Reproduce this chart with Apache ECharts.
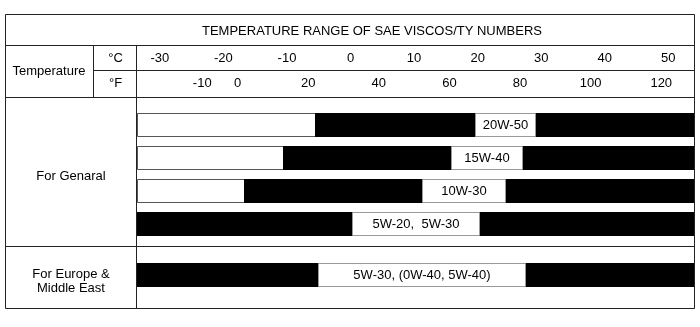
<!DOCTYPE html>
<html>
<head>
<meta charset="utf-8">
<script src="https://cdn.jsdelivr.net/npm/echarts@6/dist/echarts.min.js"></script>
<style>
html,body{margin:0;padding:0;background:#fff;}
#chart{width:700px;height:327px;}
</style>
</head>
<body>
<div id="chart"></div>
<script>
// ---- data ----
const titleText = 'TEMPERATURE RANGE OF SAE VISCOS/TY NUMBERS';
const grades = ['20W-50', '15W-40', '10W-30', '5W-20,  5W-30', '5W-30, (0W-40, 5W-40)'];
const gradeGroup = [0, 0, 0, 0, 1];
const groups = ['For Genaral', 'For Europe &\nMiddle East'];
// temperature range (°C) in which each grade is usable (black band)
const rangeLowC = [-5.6, -10.6, -16.7, -33.6, -33.6];
const rangeHighC = [54.2, 54.2, 54.2, 54.2, 54.2];
// grade label box span (°C)
const labelLowC = [19.6, 15.8, 11.3, 0.3, -5.1];
const labelHighC = [29.2, 27.2, 24.5, 20.4, 27.6];
// axis
const axisMinC = -33.6;
const axisMaxC = 54.2;
const celsiusTicks = [-30, -20, -10, 0, 10, 20, 30, 40, 50];
const fahrenheitTicks = [-10, 0, 20, 40, 60, 80, 100, 120];

const C2F = c => c * 9 / 5 + 32;
const FONT = "'Liberation Sans', Arial, Helvetica, sans-serif";

const chart = echarts.init(document.getElementById('chart'), null, {renderer: 'canvas'});

const BAR_H = 23;

function rowsOf(g) {
  const out = [];
  grades.forEach((n, i) => { if (gradeGroup[i] === g) out.push(i); });
  return out;
}

function makeSeries(g) {
  const idx = rowsOf(g);
  const track = idx.map((gi, r) => [r, axisMinC, axisMaxC]);
  const band = idx.map((gi, r) => [r, rangeLowC[gi], rangeHighC[gi]]);
  const box = idx.map((gi, r) => [r, labelLowC[gi], labelHighC[gi], gi]);
  const common = {type: 'custom', xAxisIndex: g === 0 ? 0 : 2, yAxisIndex: g, encode: {x: [1, 2], y: 0}, silent: true, clip: false};
  return [
    Object.assign({}, common, {
      name: 'track' + g, data: track, z: 1,
      renderItem: (params, api) => {
        const p0 = api.coord([api.value(1), api.value(0)]);
        const p1 = api.coord([api.value(2), api.value(0)]);
        const x0 = Math.round(p0[0]) + 0.5, x1 = Math.round(p1[0]) - 0.5;
        const y0 = Math.round(p0[1] - BAR_H / 2) + 0.5;
        return {type: 'rect', shape: {x: x0, y: y0, width: x1 - x0, height: BAR_H},
          style: {fill: '#fff', stroke: '#555', lineWidth: 1}};
      }
    }),
    Object.assign({}, common, {
      name: 'band' + g, data: band, z: 2,
      renderItem: (params, api) => {
        const p0 = api.coord([api.value(1), api.value(0)]);
        const p1 = api.coord([api.value(2), api.value(0)]);
        const x0 = Math.round(p0[0]), x1 = Math.round(p1[0]);
        const y0 = Math.round(p0[1] - BAR_H / 2);
        return {type: 'rect', shape: {x: x0, y: y0, width: x1 - x0, height: BAR_H + 1},
          style: {fill: '#000'}};
      }
    }),
    Object.assign({}, common, {
      name: 'label' + g, data: box, z: 3,
      renderItem: (params, api) => {
        const p0 = api.coord([api.value(1), api.value(0)]);
        const p1 = api.coord([api.value(2), api.value(0)]);
        const x0 = Math.round(p0[0]) + 0.5, x1 = Math.round(p1[0]) - 0.5;
        const y0 = Math.round(p0[1] - BAR_H / 2) + 0.5;
        const gi = api.value(3);
        return {type: 'rect', shape: {x: x0, y: y0, width: x1 - x0, height: BAR_H},
          style: {fill: '#fff', stroke: '#999', lineWidth: 1},
          textContent: {style: {text: grades[gi], fill: '#000', font: '13px ' + FONT}},
          textConfig: {position: 'inside'}};
      }
    })
  ];
}

// table frame
const L = 5.5, R = 694.5, T = 14.5, B = 308.5;
const lineStyle = {stroke: '#222', lineWidth: 1};
function hline(y, x0, x1) { return {type: 'line', shape: {x1: x0, y1: y, x2: x1, y2: y}, style: lineStyle, z: 10, silent: true}; }
function vline(x, y0, y1) { return {type: 'line', shape: {x1: x, y1: y0, x2: x, y2: y1}, style: lineStyle, z: 10, silent: true}; }
function txt(s, x, y, extra) {
  return Object.assign({type: 'text', z: 10, silent: true, style: Object.assign({text: s, x: x, y: y, fill: '#000', font: '13px ' + FONT, textAlign: 'center', textVerticalAlign: 'middle', lineHeight: 14}, extra || {})});
}

const graphics = [
  {type: 'rect', shape: {x: L, y: T, width: R - L, height: B - T}, style: {fill: 'none', stroke: '#222', lineWidth: 1}, z: 10, silent: true},
  hline(45.5, L, R),
  hline(70.5, 93.5, R),
  hline(97.5, L, R),
  hline(246.5, L, R),
  vline(93.5, 45.5, 97.5),
  vline(136.5, 45.5, B),
  txt(titleText, 372, 31.5),
  txt('Temperature', 49, 71),
  txt('°C', 115.5, 58),
  txt('°F', 115.5, 83.5),
  txt(groups[0], 71, 176),
  txt(groups[1], 71, 281)
];

const labelCommon = {fontSize: 13, color: '#000', fontFamily: FONT, margin: 0};

const option = {
  animation: false,
  backgroundColor: '#fff',
  grid: [
    {left: 137, right: 5, top: 107.5, height: 132},
    {left: 137, right: 5, top: 263, height: 23}
  ],
  xAxis: [
    {type: 'value', gridIndex: 0, position: 'top', min: axisMinC, max: axisMaxC, offset: 43,
      axisLine: {show: false}, axisTick: {show: false}, splitLine: {show: false},
      axisLabel: Object.assign({customValues: celsiusTicks}, labelCommon)},
    {type: 'value', gridIndex: 0, position: 'top', min: C2F(axisMinC), max: C2F(axisMaxC), offset: 18,
      axisLine: {show: false}, axisTick: {show: false}, splitLine: {show: false},
      axisLabel: Object.assign({customValues: fahrenheitTicks}, labelCommon)},
    {type: 'value', gridIndex: 1, min: axisMinC, max: axisMaxC, show: false}
  ],
  yAxis: [
    {type: 'category', gridIndex: 0, inverse: true, data: rowsOf(0).map(i => grades[i]), show: false},
    {type: 'category', gridIndex: 1, inverse: true, data: rowsOf(1).map(i => grades[i]), show: false}
  ],
  graphic: graphics,
  series: [].concat(makeSeries(0), makeSeries(1))
};
chart.setOption(option);
</script>
</body>
</html>
